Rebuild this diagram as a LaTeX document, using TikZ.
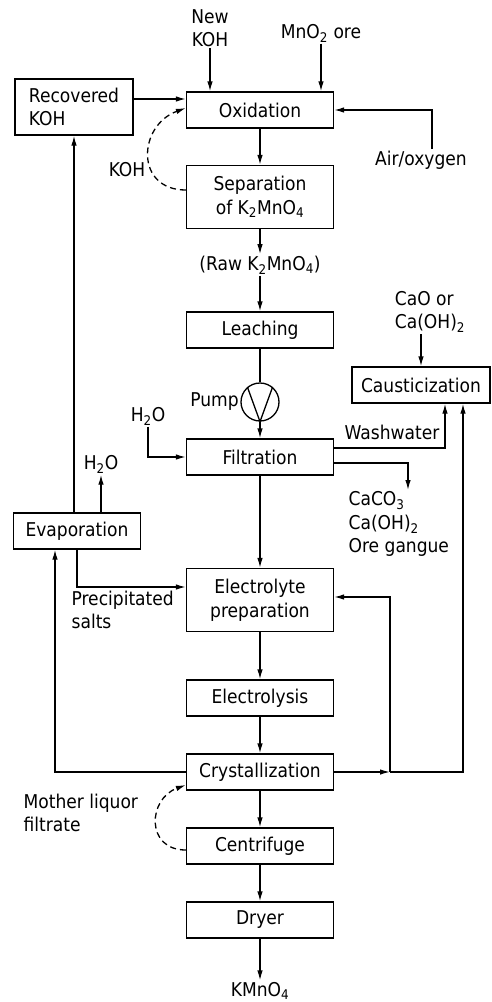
\documentclass[tikz,border=0pt]{standalone}
\usepackage{fontspec}
\setmainfont{DejaVu Sans Condensed}
\usetikzlibrary{arrows.meta}

\begin{document}
\begin{tikzpicture}[x=1pt, y=-1pt, line width=1.3pt,
  font=\fontsize{19}{23.5}\selectfont,
  >={Latex[length=10pt,width=5.5pt]},
  box/.style={draw, minimum width=147, minimum height=36, align=center, inner sep=2pt},
  lbl/.style={align=left, inner sep=1pt},
  recycle/.style={->, dash pattern=on 6pt off 4pt}]
  \useasboundingbox (0,0) rectangle (491,1002);
  % main line of process steps
  \node[box] (ox) at (260,110) {Oxidation};
  \node[box, minimum height=63] (sep) at (260,197) {Separation\\of K\textsubscript{2}MnO\textsubscript{4}};
  \node[lbl] (raw) at (260,265) {(Raw K\textsubscript{2}MnO\textsubscript{4})};
  \node[box] (leach) at (260,330) {Leaching};
  \node[circle, draw, minimum size=38, inner sep=0pt] (pump) at (260,402) {};
  \draw (pump.130) -- (pump.south) -- (pump.50);
  \node[lbl, left] (pumplbl) at (pump.west) {Pump};
  \node[box] (filt) at (260,457) {Filtration};
  \node[box, minimum height=63] (elec) at (260,600) {Electrolyte\\preparation};
  \node[box] (lysis) at (260,698) {Electrolysis};
  \node[box] (cryst) at (260,772) {Crystallization};
  \node[box] (centr) at (260,846) {Centrifuge};
  \node[box] (dryer) at (260,920) {Dryer};
  \node[lbl] (kmno) at (260,991) {KMnO\textsubscript{4}};
  % side units
  \node[box, minimum width=118, minimum height=56, align=left] (rkoh) at (74,107) {Recovered\\KOH};
  \node[box, minimum width=127] (evap) at (77,531) {Evaporation};
  \node[box, minimum width=138] (caus) at (421,385) {Causticization};
  % feeds and products
  \node[lbl, align=center] (newkoh) at (210,28) {New\\KOH};
  \node[lbl] (mno) at (321,33) {MnO\textsubscript{2} ore};
  \node[lbl] (air) at (421,160) {Air/oxygen};
  \node[lbl] (cao) at (430,312) {CaO or\\Ca(OH)\textsubscript{2}};
  \node[lbl] (h2oa) at (148,416) {H\textsubscript{2}O};
  \node[lbl] (h2ob) at (101,464) {H\textsubscript{2}O};
  \node[lbl] (wash) at (392,432) {Washwater};
  \node[lbl, anchor=north west] (gangue) at (347,490) {CaCO\textsubscript{3}\\Ca(OH)\textsubscript{2}\\Ore gangue};
  \node[lbl, anchor=north west] (salts) at (70,589) {Precipitated\\salts};
  \node[lbl] (kohlbl) at (127,170) {KOH};
  \node[lbl, anchor=north west] (mother) at (22,792) {Mother liquor\\filtrate};
  \coordinate (gangtop) at (408,490);
  \coordinate (split) at (390,772);
  % connectors down the middle
  \draw[->] (ox) -- (sep);
  \draw[->] (sep) -- (raw);
  \draw[->] (raw) -- (leach);
  \draw (leach) -- (pump);
  \draw[->] (pump) -- (filt);
  \draw[->] (filt) -- (elec);
  \draw[->] (elec) -- (lysis);
  \draw[->] (lysis) -- (cryst);
  \draw[->] (cryst) -- (centr);
  \draw[->] (centr) -- (dryer);
  \draw[->] (dryer) -- (kmno);
  % feeds
  \draw[->] (newkoh.south) -- (newkoh.south |- ox.north);
  \draw[->] (mno.south) -- (mno.south |- ox.north);
  \draw[->] ([xshift=11pt]air.north) |- (ox.east);
  \draw[->] ([yshift=8pt]rkoh.east) -- ([yshift=8pt]rkoh.east -| ox.west);
  \draw[recycle] ([yshift=7pt]sep.west) to[out=180, in=200, looseness=1.6] ([yshift=2pt]ox.west);
  \draw[->] (h2oa.south) |- (filt.west);
  \draw[->] (caus.north |- cao.south) -- (caus.north);
  \draw[->] ([yshift=9pt]filt.east) -| ([xshift=24pt]caus.south);
  \draw[->] ([yshift=-6pt]filt.east) -| (gangtop);
  % evaporation loop
  \draw[->] (evap.north -| rkoh.south) -- (rkoh.south);
  \draw[->] (evap.north -| h2ob.south) -- (h2ob.south);
  \draw[->] (evap.south) |- ([yshift=13pt]elec.west);
  \draw[->] (cryst.west) -| ([xshift=-22pt]evap.south);
  % mother liquor returns
  \draw[->] (cryst.east) -- (split);
  \draw[->] (split) |- ([yshift=3pt]elec.east);
  \draw[->] (split) -| ([xshift=42pt]caus.south);
  \draw[recycle] ([yshift=-4pt]centr.west) to[out=180, in=200, looseness=1.6] ([yshift=-13pt]cryst.west);
\end{tikzpicture}
\end{document}
